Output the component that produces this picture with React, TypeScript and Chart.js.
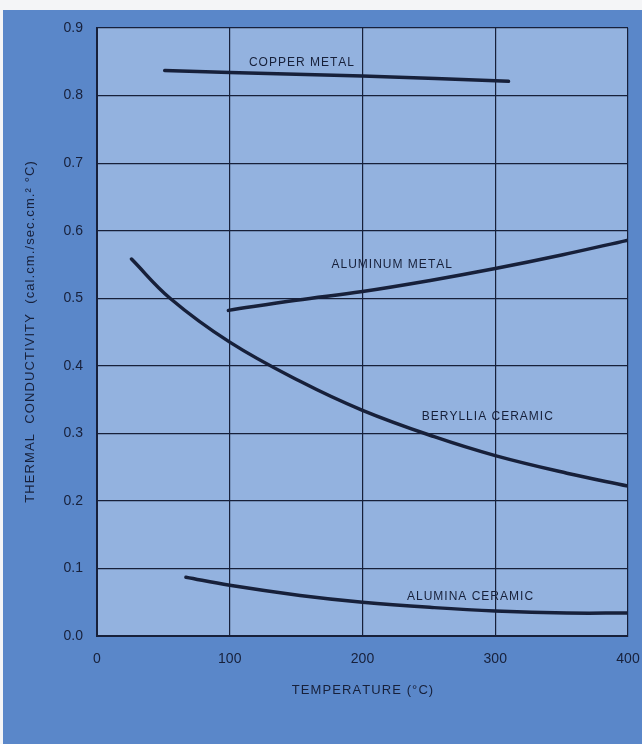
import React, { useEffect, useRef } from "react";
import { Chart, registerables } from "chart.js";

Chart.register(...registerables);

// Temperature (°C) and thermal conductivity (cal·cm/sec·cm²·°C)
const copperT = [51, 100, 200, 310];
const copperK = [0.837, 0.834, 0.829, 0.821];

const aluminumT = [99, 150, 200, 250, 300, 350, 400];
const aluminumK = [0.482, 0.497, 0.51, 0.526, 0.544, 0.564, 0.586];

const berylliaT = [26, 55, 100, 153, 200, 254, 300, 354, 400];
const berylliaK = [0.558, 0.5, 0.435, 0.377, 0.334, 0.295, 0.267, 0.241, 0.222];

const aluminaT = [67, 100, 153, 200, 254, 300, 354, 400];
const aluminaK = [0.087, 0.075, 0.06, 0.05, 0.042, 0.037, 0.034, 0.034];

const curveNames = ["COPPER METAL", "ALUMINUM METAL", "BERYLLIA CERAMIC", "ALUMINA CERAMIC"];
const labelT = [154, 222, 294, 281];
const labelK = [0.849, 0.549, 0.324, 0.058];

const xTitle = "TEMPERATURE (°C)";
const yTitle = "THERMAL  CONDUCTIVITY  (cal.cm./sec.cm.² °C)";

const INK = "#17203a";
const PANEL = "#5a87c9";
const PLOT = "#93b2df";
const FONT = "'Liberation Sans', Arial, sans-serif";
const HS = String.fromCharCode(8202);
const spaced = (s: string) => s.split("").join(HS);

const pts = (t: number[], k: number[]) => t.map((x, i) => ({ x, y: k[i] }));

export default function App() {
  const ref = useRef<HTMLCanvasElement | null>(null);
  useEffect(() => {
    document.body.style.margin = "0";
    const canvas = ref.current!;
    const bgPlugin = {
      id: "bg",
      beforeDraw(chart: any) {
        const { ctx, chartArea } = chart;
        ctx.save();
        ctx.fillStyle = "#f4f5f7";
        ctx.fillRect(0, 0, chart.width, chart.height);
        ctx.fillStyle = PANEL;
        ctx.fillRect(3, 10, chart.width - 3, chart.height - 10);
        ctx.fillStyle = PLOT;
        ctx.fillRect(chartArea.left, chartArea.top, chartArea.right - chartArea.left, chartArea.bottom - chartArea.top);
        ctx.restore();
      },
      afterDatasetsDraw(chart: any) {
        const { ctx, scales } = chart;
        ctx.save();
        ctx.fillStyle = INK;
        ctx.font = "12px " + FONT;
        ctx.textAlign = "center";
        ctx.textBaseline = "middle";
        curveNames.forEach((n, i) => {
          const x = scales.x.getPixelForValue(labelT[i]);
          const y = scales.y.getPixelForValue(labelK[i]);
          ctx.fillText(spaced(n), x, y);
        });
        ctx.restore();
      },
    };
    const mk = (t: number[], k: number[]) => ({
      data: pts(t, k),
      borderColor: INK,
      borderWidth: 3.5,
      pointRadius: 0,
      tension: 0.4,
      borderCapStyle: "round" as const,
      fill: false,
    });
    const chart = new Chart(canvas, {
      type: "line",
      data: {
        datasets: [
          mk(copperT, copperK),
          mk(aluminumT, aluminumK),
          mk(berylliaT, berylliaK),
          mk(aluminaT, aluminaK),
        ],
      },
      options: {
        animation: false,
        responsive: false,
        layout: { padding: { left: 20, right: 14, top: 28, bottom: 46 } },
        plugins: { legend: { display: false }, tooltip: { enabled: false } },
        scales: {
          x: {
            type: "linear",
            min: 0,
            max: 400,
            afterFit: (s: any) => { s.height = 62; s.paddingRight = 0; s.paddingLeft = 0; },
            ticks: { stepSize: 100, color: INK, padding: 15, font: { family: FONT, size: 14 } },
            grid: { color: INK, lineWidth: 1.2, drawTicks: false },
            border: { color: INK, width: 2 },
            title: { display: true, text: spaced(xTitle), color: INK, padding: 0, font: { family: FONT, size: 13 } },
          },
          y: {
            min: 0,
            max: 0.9,
            afterFit: (s: any) => { s.width = 77; s.paddingTop = 0; s.paddingBottom = 0; },
            ticks: {
              stepSize: 0.1,
              color: INK,
              padding: 14,
              font: { family: FONT, size: 14 },
              callback: (v: any) => Number(v).toFixed(1),
            },
            grid: { color: INK, lineWidth: 1.2, drawTicks: false },
            border: { color: INK, width: 2 },
            title: { display: true, text: spaced(yTitle), color: INK, padding: { top: 3, bottom: 0 }, font: { family: FONT, size: 13 } },
          },
        },
      },
      plugins: [bgPlugin],
    });
    return () => chart.destroy();
  }, []);
  return <canvas ref={ref} width={642} height={744} style={{ display: "block" }} />;
}
